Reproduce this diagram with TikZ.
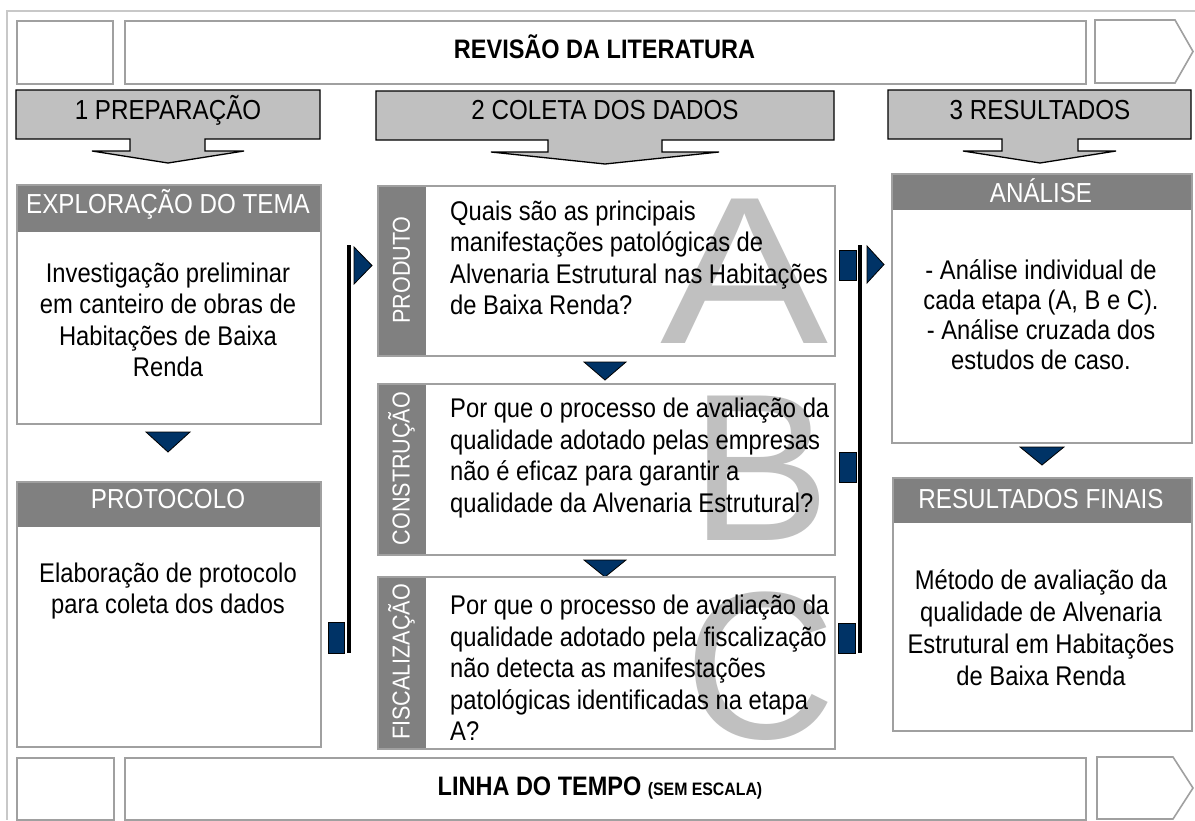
\documentclass[tikz,border=0pt]{standalone}
\usepackage{fontspec}
\setmainfont{Liberation Sans}
\newfontfamily\nrw[FakeStretch=0.88]{Liberation Sans}
\definecolor{framegray}{HTML}{C8C8C8}
\definecolor{boxgray}{HTML}{A0A0A0}
\definecolor{arrowgray}{HTML}{C0C0C0}
\definecolor{bandgray}{HTML}{808080}
\definecolor{navyblue}{HTML}{003366}
\definecolor{lettergray}{HTML}{C0C0C0}
\begin{document}
\begin{tikzpicture}[x=1pt,y=-1pt,
 outerframe/.style={draw=framegray,line width=2pt},
 boxstyle/.style={draw=boxgray,line width=1.6pt,inner sep=0pt,anchor=north west},
 hdrarrow/.style={fill=arrowgray,draw=black,line width=1.3pt,line join=miter},
 navyshape/.style={fill=navyblue,draw=black,line width=0.8pt},
 barline/.style={draw=black,line width=3.5pt},
 bodytxt/.style={font=\nrw\fontsize{27}{31.5}\selectfont,align=center,inner sep=0pt},
 lefttxt/.style={font=\nrw\fontsize{27}{31.5}\selectfont,align=left,inner sep=0pt,anchor=west},
 hdrtxt/.style={font=\nrw\fontsize{27.5}{30}\selectfont,inner sep=0pt,anchor=base},
 whitetxt/.style={font=\nrw\fontsize{27.5}{30}\selectfont,text=white,inner sep=0pt,anchor=base},
 bandtxt/.style={font=\nrw\fontsize{24.5}{28}\selectfont,text=white,inner sep=0pt,rotate=90},
 bigletter/.style={font=\fontsize{210}{210}\selectfont,text=lettergray,inner sep=0pt},
 bartxt/.style={font=\nrw\bfseries\fontsize{26.7}{30}\selectfont,inner sep=0pt,anchor=base}]
\useasboundingbox (0,0) rectangle (1195,820);
\fill[white] (0,0) rectangle (1195,820);
% outer frame
\draw[outerframe] (1195,11) -- (7,11) -- (7,820);

% top bar
\node[boxstyle,minimum width=96pt,minimum height=63pt] (tl) at (16,20) {};
\node[boxstyle,minimum width=961pt,minimum height=63pt] (tm) at (124,20) {};
\draw[draw=boxgray,line width=1.6pt,line join=miter] (1095,20) -- (1175,20) -- (1193,51.5) -- (1175,83) -- (1095,83) -- cycle;
\node[bartxt] (rev) at (604.5,58) {REVISÃO DA LITERATURA};

% bottom bar
\node[boxstyle,minimum width=97pt,minimum height=62pt] (bl) at (16,757) {};
\node[boxstyle,minimum width=961pt,minimum height=62pt] (bm) at (124,757) {};
\draw[draw=boxgray,line width=1.6pt,line join=miter] (1097,757) -- (1173,757) -- (1193,788) -- (1173,819) -- (1097,819) -- cycle;
\node[bartxt] (lin) at (600,795) {LINHA DO TEMPO {\fontsize{18}{20}\selectfont (SEM ESCALA)}};

% header arrows
\draw[hdrarrow] (16,90) -- (320,90) -- (320,139) -- (205,139) -- (205,151) -- (244,151) -- (168,163) -- (92,151) -- (130,151) -- (130,139) -- (16,139) -- cycle;
\node[hdrtxt] (h1) at (168,119) {1 PREPARAÇÃO};
\draw[hdrarrow] (376,91) -- (834,91) -- (834,140) -- (662,140) -- (662,152) -- (719,152) -- (605,164) -- (491,152) -- (548,152) -- (548,140) -- (376,140) -- cycle;
\node[hdrtxt] (h2) at (605,119) {2 COLETA DOS DADOS};
\draw[hdrarrow] (888,90) -- (1191,90) -- (1191,139) -- (1078,139) -- (1078,151) -- (1116,151) -- (1040,163) -- (963,151) -- (1002,151) -- (1002,139) -- (888,139) -- cycle;
\node[hdrtxt] (h3) at (1040,119) {3 RESULTADOS};

% left column
\fill[bandgray] (16,184) rectangle (320,232);
\node[boxstyle,minimum width=304pt,minimum height=239pt] (expl) at (16,184) {};
\node[whitetxt] (explh) at (168,213) {EXPLORAÇÃO DO TEMA};
\node[bodytxt] (explb) at (168,320) {Investigação preliminar\\em canteiro de obras de\\Habitações de Baixa\\Renda};
\draw[navyshape] (146,432) -- (190,432) -- (168,452) -- cycle;
\fill[bandgray] (16,481) rectangle (320,527);
\node[boxstyle,minimum width=304pt,minimum height=265pt] (prot) at (16,481) {};
\node[whitetxt] (proth) at (168,508) {PROTOCOLO};
\node[bodytxt] (protb) at (168,591) {Elaboração de protocolo\\para coleta dos dados};

% left bracket
\draw[barline] (349,245) -- (349,653);
\draw[navyshape] (354,247) -- (372,265.5) -- (354,284) -- cycle;
\draw[navyshape] (328,622) rectangle (344,653);

% middle column: A
\node[bigletter] (bigA) at (745,271) {\scalebox{1.2}[1]{A}};
\fill[bandgray] (377,185) rectangle (426,355);
\node[boxstyle,minimum width=457pt,minimum height=170pt] (boxA) at (377,185) {};
\node[bandtxt] (bandA) at (401.5,270) {PRODUTO};
\node[lefttxt] (txtA) at (450,258) {Quais são as principais\\manifestações patológicas de\\Alvenaria Estrutural nas Habitações\\de Baixa Renda?};
\draw[navyshape] (584,362) -- (626,362) -- (605,380) -- cycle;

% B
\node[bigletter] (bigB) at (761,468) {B};
\fill[bandgray] (377,383) rectangle (426,554);
\node[boxstyle,minimum width=457pt,minimum height=171pt] (boxB) at (377,383) {};
\node[bandtxt] (bandB) at (401.5,468.5) {CONSTRUÇÃO};
\node[lefttxt] (txtB) at (450,458) {Por que o processo de avaliação da\\qualidade adotado pelas empresas\\não é eficaz para garantir a\\qualidade da Alvenaria Estrutural?};
\draw[navyshape] (584,560) -- (626,560) -- (605,577) -- cycle;

% C
\node[bigletter] (bigC) at (760,666) {C};
\fill[bandgray] (377,576) rectangle (426,748);
\node[boxstyle,minimum width=457pt,minimum height=172pt] (boxC) at (377,576) {};
\node[bandtxt] (bandC) at (401.5,662) {FISCALIZAÇÃO};
\node[lefttxt] (txtC) at (450,668) {Por que o processo de avaliação da\\qualidade adotado pela fiscalização\\não detecta as manifestações\\patológicas identificadas na etapa\\A?};

% right bracket
\draw[barline] (860,245) -- (860,653);
\draw[navyshape] (839,250) rectangle (856,280);
\draw[navyshape] (867,246) -- (884,264.5) -- (867,283) -- cycle;
\draw[navyshape] (839,452) rectangle (856,482);
\draw[navyshape] (838,623) rectangle (855,653);

% right column
\fill[bandgray] (891,173) rectangle (1191,210);
\node[boxstyle,minimum width=300pt,minimum height=269pt] (anal) at (891,173) {};
\node[whitetxt] (analh) at (1041,202) {ANÁLISE};
\node[bodytxt,font=\nrw\fontsize{27}{30}\selectfont] (analb) at (1041,315) {- Análise individual de\\cada etapa (A, B e C).\\- Análise cruzada dos\\estudos de caso.};
\draw[navyshape] (1020,447) -- (1064,447) -- (1042,465) -- cycle;
\fill[bandgray] (892,477) rectangle (1191,523);
\node[boxstyle,minimum width=299pt,minimum height=253pt] (resf) at (892,477) {};
\node[whitetxt] (resfh) at (1041,508) {RESULTADOS FINAIS};
\node[bodytxt,font=\nrw\fontsize{27}{32}\selectfont] (resfb) at (1041,628) {Método de avaliação da\\qualidade de Alvenaria\\Estrutural em Habitações\\de Baixa Renda};
\end{tikzpicture}
\end{document}
